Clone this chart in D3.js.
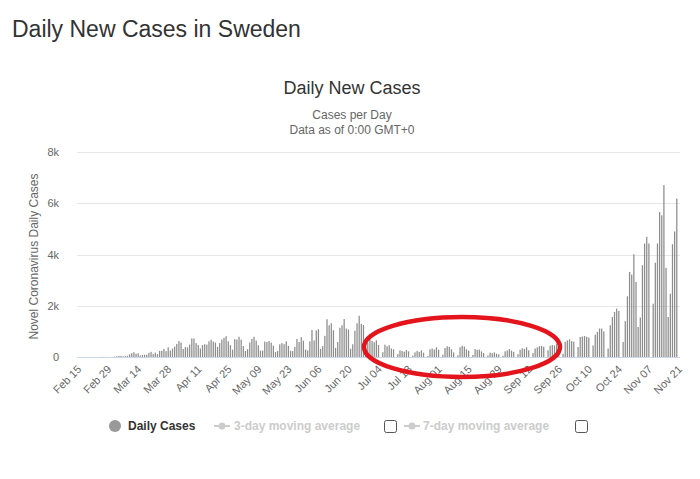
<!DOCTYPE html>
<html>
<head>
<meta charset="utf-8">
<script src="https://cdn.jsdelivr.net/npm/d3@7"></script>
<style>
  html, body { margin: 0; padding: 0; background: #fff; }
  svg { display: block; font-family: "Liberation Sans", Arial, Helvetica, sans-serif; }
</style>
</head>
<body>
<svg id="chart" width="700" height="479"></svg>
<script>
// ---------------- DATA ----------------
const pageTitle = "Daily New Cases in Sweden";
const chartTitle = "Daily New Cases";
const subtitleLines = ["Cases per Day", "Data as of 0:00 GMT+0"];
const yAxisTitle = "Novel Coronavirus Daily Cases";
const seriesName = "Daily Cases";
const hiddenSeries = ["3-day moving average", "7-day moving average"];

// categories: every day from Feb 15 to Nov 21 (2020)
const fmt = d3.timeFormat("%b %d");
const categories = d3.timeDay.range(new Date(2020, 1, 15), new Date(2020, 10, 22)).map(fmt);

const tickLabels = ["Feb 15","Feb 29","Mar 14","Mar 28","Apr 11","Apr 25","May 09","May 23",
  "Jun 06","Jun 20","Jul 04","Jul 18","Aug 01","Aug 15","Aug 29","Sep 12","Sep 26",
  "Oct 10","Oct 24","Nov 07","Nov 21"];

const yTicks = [0, 2000, 4000, 6000, 8000];
const yTickLabels = ["0", "2k", "4k", "6k", "8k"];

// daily new cases (Feb 15 .. Nov 21)
const casesFeb = [0,0,0,0,0,0,0,0,0,0,0, 1,5,5,1];
const casesMar = [1,1,15,22,42,43,24,42,45,107, 145,187,127,147,61,81,87,89,160,200,
  124,171,112,240,240,314,229,378,253,328, 407];
const casesApr = [512,621,563,312,387,376,487,726,722,544, 466,332,465,497,482,613,676,606,563,392,
  545,682,751,812,610,463,286,695,681,790];
const casesMay = [676,428,235,304,563,705,790,642,455,249, 253,602,587,625,562,441,193,233,497,541,
  498,611,437,244,232,396,702,585,774,637, 291];
const casesJun = [257,613,1056,648,1035,1083,318,430,824,1474, 1239,1315,1044,357,582,1141,1239,1481,1110,1070,
  325,498,1024,1316,1610,1294,1248,200,545,880];
const casesJul = [630,577,650,470,0,190,480,420,460,330, 300,0,110,260,230,210,270,220,0,60,
  180,240,200,260,170,0,40,300,330,290, 380];
const casesAug = [280,0,90,350,420,390,300,180,0,70, 380,440,410,300,250,0,80,310,280,290,
  220,150,0,60,170,150,180,130,100,0, 50];
const casesSep = [220,260,310,250,200,0,110,280,340,320, 380,260,0,150,330,380,420,430,400,0,
  260,440,470,450,520,420,0,130,590,650];
const casesOct = [690,620,600,0,390,780,800,820,790,760, 0,450,870,980,1110,1110,1000,0,330,1240,
  1560,1760,1890,1800,0,590,1400,2370,3320,3220, 4010];
const casesNov = [2930,1170,1540,3580,4430,4690,4430,0,2080,3680, 4430,5660,5530,6710,3480,1560,2470,4400,4900,6180, 0];

const dailyCases = [].concat(casesFeb, casesMar, casesApr, casesMay, casesJun,
  casesJul, casesAug, casesSep, casesOct, casesNov);

const rows = categories.map((c, i) => ({ cat: c, value: dailyCases[i] }));

// ---------------- DRAW ----------------
const svg = d3.select("#chart");
const plot = { left: 77, right: 680, top: 152, bottom: 357 };

svg.append("text").attr("x", 12).attr("y", 37)
  .attr("font-size", 23).attr("fill", "#333").text(pageTitle);

svg.append("text").attr("x", 352).attr("y", 94).attr("text-anchor", "middle")
  .attr("font-size", 18).attr("fill", "#333").text(chartTitle);

subtitleLines.forEach((t, i) => {
  svg.append("text").attr("x", 352).attr("y", 119 + i * 15).attr("text-anchor", "middle")
    .attr("font-size", 12).attr("fill", "#666").text(t);
});

const x = d3.scaleBand().domain(categories).range([plot.left, plot.right])
  .paddingInner(0.42).paddingOuter(0.21);
const y = d3.scaleLinear().domain([0, 8000]).range([plot.bottom, plot.top]);

// grid
svg.append("g").selectAll("line").data(yTicks.slice(1)).join("line")
  .attr("x1", plot.left).attr("x2", plot.right)
  .attr("y1", d => Math.round(y(d)) + 0.5).attr("y2", d => Math.round(y(d)) + 0.5)
  .attr("stroke", "#e6e6e6").attr("stroke-width", 1);

// y axis
const yAxis = d3.axisLeft(y).tickValues(yTicks).tickSize(0)
  .tickFormat((d, i) => yTickLabels[i]);
const gy = svg.append("g").attr("transform", `translate(${plot.left - 15},0)`).call(yAxis);
gy.select(".domain").remove();
gy.selectAll("text").attr("font-size", 11).attr("fill", "#666")
  .attr("font-family", "'Liberation Sans', Arial, sans-serif");

svg.append("text")
  .attr("transform", `translate(38,${(plot.top + plot.bottom) / 2 + 2}) rotate(-90)`)
  .attr("text-anchor", "middle").attr("font-size", 12).attr("fill", "#666")
  .text(yAxisTitle);

// bars
svg.append("g").selectAll("rect").data(rows).join("rect")
  .attr("x", d => x(d.cat)).attr("width", x.bandwidth())
  .attr("y", d => y(d.value)).attr("height", d => y(0) - y(d.value))
  .attr("fill", "#8c8c8c");

// x axis
const xAxis = d3.axisBottom(x).tickValues(tickLabels).tickSize(0);
const gx = svg.append("g").attr("transform", `translate(0,${plot.bottom})`).call(xAxis);
gx.select(".domain").attr("stroke", "#ccd6eb").attr("d", `M${plot.left},0.5H${plot.right}`);
gx.selectAll("text")
  .attr("font-size", 11).attr("fill", "#666")
  .attr("font-family", "'Liberation Sans', Arial, sans-serif")
  .attr("text-anchor", "end")
  .attr("dy", null)
  .attr("y", 0)
  .attr("transform", "translate(4,13) rotate(-45)");

// red annotation ellipse
svg.append("ellipse").attr("cx", 462).attr("cy", 347).attr("rx", 98).attr("ry", 30)
  .attr("fill", "none").attr("stroke", "#e3141c").attr("stroke-width", 4.5);

// legend
const lg = svg.append("g");
const ly = 426;
lg.append("circle").attr("cx", 115).attr("cy", ly).attr("r", 6).attr("fill", "#999");
lg.append("text").attr("x", 128).attr("y", ly + 4).attr("font-size", 12)
  .attr("font-weight", "bold").attr("fill", "#333").text(seriesName);

const hidX = [[214, 234, 384], [404, 423, 575]];
hiddenSeries.forEach((name, i) => {
  const [sx, tx, cbx] = hidX[i];
  lg.append("line").attr("x1", sx).attr("x2", sx + 16).attr("y1", ly).attr("y2", ly)
    .attr("stroke", "#ccc").attr("stroke-width", 2);
  lg.append("circle").attr("cx", sx + 8).attr("cy", ly).attr("r", 3.5).attr("fill", "#ccc");
  lg.append("text").attr("x", tx).attr("y", ly + 4).attr("font-size", 12)
    .attr("font-weight", "bold").attr("fill", "#ccc").text(name);
  lg.append("rect").attr("x", cbx + 0.5).attr("y", ly - 5.5).attr("width", 12).attr("height", 12)
    .attr("rx", 2).attr("fill", "#fff").attr("stroke", "#555").attr("stroke-width", 1);
});
</script>
</body>
</html>
